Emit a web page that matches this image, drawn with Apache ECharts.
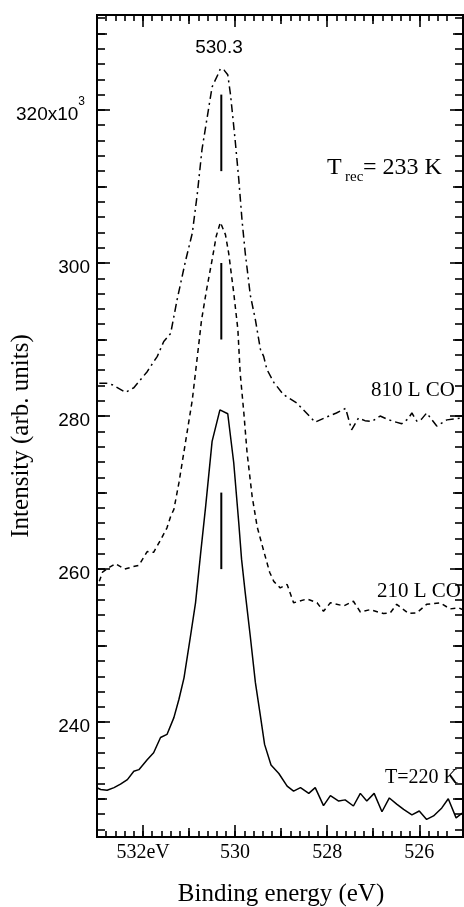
<!DOCTYPE html>
<html>
<head>
<meta charset="utf-8">
<script src="https://cdn.jsdelivr.net/npm/echarts@6/dist/echarts.min.js"></script>
<style>
  html, body { margin: 0; padding: 0; background: #fff; }
  #chart { width: 464px; height: 907px; }
</style>
</head>
<body>
<div id="chart"></div>
<script>
// O 1s region: binding energy (eV) vs intensity (x10^3 counts, arbitrary units)
const peakEnergy = 530.3;
const energyRange = [525.05, 533];
const intensityRange = [225, 332.4];

const xMajorTicks = [526, 528, 530, 532];
const xMidTicks = [527, 529, 531];
const yMajorTicks = [240, 260, 280, 300, 320];
const yMidTicks = [230, 250, 270, 290, 310, 330];

// T = 220 K (clean)
const spectrumT220 = [
  [532.99, 231.4], [532.92, 231.2], [532.78, 231.1], [532.63, 231.45], [532.49, 231.9],
  [532.34, 232.5], [532.2, 233.6], [532.09, 233.8], [531.91, 235.1], [531.77, 236.0],
  [531.62, 238.0], [531.48, 238.4], [531.33, 240.6], [531.22, 243.0], [531.11, 245.8],
  [530.97, 251.2], [530.86, 255.6], [530.75, 262.0], [530.64, 268.2], [530.5, 276.7],
  [530.33, 280.8], [530.16, 280.3], [530.03, 273.9], [529.92, 266.0], [529.86, 261.3],
  [529.78, 256.9], [529.67, 251.2], [529.56, 245.2], [529.45, 240.8], [529.36, 237.1],
  [529.22, 234.4], [529.05, 233.3], [528.87, 231.65], [528.73, 231.0], [528.58, 231.45],
  [528.4, 230.7], [528.26, 231.45], [528.08, 229.1], [527.93, 230.4], [527.75, 229.7],
  [527.61, 229.85], [527.43, 229.05], [527.28, 230.7], [527.14, 229.7], [526.98, 230.7],
  [526.81, 228.3], [526.65, 230.1], [526.49, 229.3], [526.34, 228.6], [526.16, 227.9],
  [526.0, 228.4], [525.84, 227.3], [525.69, 227.75], [525.51, 228.8], [525.37, 230.0],
  [525.2, 227.5], [525.05, 228.2]
];

// 210 L CO
const spectrum210L = [
  [532.95, 258.4], [532.88, 259.6], [532.74, 260.2], [532.6, 260.7], [532.4, 260.0],
  [532.23, 260.3], [532.09, 260.5], [531.91, 262.3], [531.77, 262.2], [531.62, 263.8],
  [531.48, 265.4], [531.4, 266.9], [531.33, 267.8], [531.22, 271.3], [531.08, 276.5],
  [530.93, 282.1], [530.82, 287.8], [530.73, 292.5], [530.62, 296.5], [530.5, 300.4],
  [530.41, 303.5], [530.32, 305.3], [530.21, 303.7], [530.14, 301.3], [530.03, 296.1],
  [529.94, 291.3], [529.89, 285.6], [529.81, 280.4], [529.74, 275.2], [529.63, 269.5],
  [529.52, 265.5], [529.38, 262.4], [529.25, 259.6], [529.16, 258.4], [529.02, 257.55],
  [528.87, 258.0], [528.73, 255.6], [528.44, 256.1], [528.22, 255.6], [528.08, 254.5],
  [527.93, 255.6], [527.64, 255.2], [527.43, 255.8], [527.28, 254.4], [527.07, 254.7],
  [526.78, 254.2], [526.63, 254.3], [526.49, 255.4], [526.23, 254.2], [526.05, 254.3],
  [525.84, 255.4], [525.55, 255.6], [525.33, 254.8], [525.15, 254.95], [525.05, 254.7]
];

// 810 L CO
const spectrum810L = [
  [532.95, 284.3], [532.8, 284.3], [532.67, 284.1], [532.38, 283.1], [532.2, 283.7],
  [531.91, 285.8], [531.69, 287.8], [531.55, 289.75], [531.4, 290.8], [531.26, 295.2],
  [531.08, 300.2], [530.93, 303.9], [530.82, 309.1], [530.72, 314.8], [530.61, 318.9],
  [530.5, 323.0], [530.36, 324.8], [530.32, 325.4], [530.24, 325.2], [530.16, 324.6],
  [530.1, 322.0], [530.0, 316.1], [529.92, 310.9], [529.85, 305.6], [529.78, 301.3],
  [529.67, 295.8], [529.56, 292.6], [529.45, 288.7], [529.38, 287.8], [529.31, 286.1],
  [529.16, 284.4], [528.95, 282.8], [528.66, 281.7], [528.26, 279.2], [528.0, 279.9],
  [527.8, 280.4], [527.6, 281.0], [527.47, 278.2], [527.32, 279.75], [527.18, 279.4],
  [527.03, 279.3], [526.85, 280.0], [526.7, 279.6], [526.56, 279.3], [526.38, 279.0],
  [526.25, 279.6], [526.16, 280.4], [526.05, 279.3], [525.95, 279.6], [525.84, 280.4],
  [525.62, 278.7], [525.4, 279.5], [525.05, 279.75]
];

// vertical markers at the peak position, one per spectrum
const peakMarkerRanges = [[312, 322], [290, 300], [260, 270]];

// fine tick positions: 0.2 eV on energy, 2 units on intensity
const xMinorTicks = [];
for (let k = 2627; k <= 2665; k++) xMinorTicks.push(k / 5);
const yMinorTicks = [];
for (let v = 226; v <= 332; v += 2) yMinorTicks.push(v);

const serif = 'Liberation Serif';
const sans = 'Liberation Sans';

function xLayer(position, ticks, len, labels) {
  return {
    type: 'value', position: position, min: energyRange[0], max: energyRange[1], inverse: true,
    axisLine: { show: true, onZero: false, lineStyle: { color: '#000', width: 2 } },
    axisTick: { show: true, inside: true, length: len, customValues: ticks,
                lineStyle: { color: '#000', width: 1.6 } },
    axisLabel: labels ? {
      show: true, customValues: ticks, margin: 6, color: '#000',
      fontFamily: serif, fontSize: 20,
      formatter: v => (v === 532 ? '532eV' : String(v))
    } : { show: false },
    splitLine: { show: false }
  };
}

function yLayer(position, ticks, len, labels) {
  return {
    type: 'value', position: position, min: intensityRange[0], max: intensityRange[1],
    axisLine: { show: true, onZero: false, lineStyle: { color: '#000', width: 2 } },
    axisTick: { show: true, inside: true, length: len, customValues: ticks,
                lineStyle: { color: '#000', width: 1.6 } },
    axisLabel: labels ? {
      show: true, customValues: ticks, margin: 7, color: '#000',
      formatter: v => (v === 320 ? '{n|320x10}{e|3}' : '{n|' + v + '}'),
      rich: {
        n: { fontFamily: sans, fontSize: 19, lineHeight: 28, verticalAlign: 'bottom', color: '#000' },
        e: { fontFamily: sans, fontSize: 12, lineHeight: 12, verticalAlign: 'top', color: '#000',
             padding: [0, 5, 0, 0] }
      }
    } : { show: false },
    splitLine: { show: false }
  };
}

const xAxes = [
  xLayer('bottom', xMajorTicks, 12, true),
  xLayer('bottom', xMidTicks, 9, false),
  xLayer('bottom', xMinorTicks, 6, false),
  xLayer('top', xMajorTicks, 12, false),
  xLayer('top', xMidTicks, 9, false),
  xLayer('top', xMinorTicks, 6, false)
];
const yAxes = [
  yLayer('left', yMajorTicks, 13, true),
  yLayer('left', yMidTicks, 10, false),
  yLayer('left', yMinorTicks, 8, false),
  yLayer('right', yMajorTicks, 13, false),
  yLayer('right', yMidTicks, 10, false),
  yLayer('right', yMinorTicks, 8, false)
];

function spectrumSeries(name, data, dash) {
  return {
    name: name, type: 'line', data: data, showSymbol: false, symbol: 'none',
    xAxisIndex: 0, yAxisIndex: 0,
    lineStyle: { color: '#000', width: 1.5, type: dash }
  };
}

const series = [
  spectrumSeries('810 L CO', spectrum810L, [8, 4, 2, 4]),
  spectrumSeries('210 L CO', spectrum210L, [5, 4]),
  spectrumSeries('T=220 K', spectrumT220, 'solid')
];
peakMarkerRanges.forEach((r, i) => {
  series.push({
    name: 'peak' + i, type: 'line', showSymbol: false, symbol: 'none',
    data: [[peakEnergy, r[0]], [peakEnergy, r[1]]],
    lineStyle: { color: '#000', width: 2, type: 'solid' }
  });
});

function label(text, x, y, size, font, align) {
  return {
    type: 'text', x: x, y: y,
    style: { text: text, fontFamily: font, fontSize: size, fill: '#000',
             align: align || 'left', verticalAlign: 'middle' }
  };
}

const chart = echarts.init(document.getElementById('chart'), null, { renderer: 'canvas' });
chart.setOption({
  animation: false,
  backgroundColor: '#fff',
  grid: { left: 97, top: 15, right: 1, bottom: 70, containLabel: false },
  xAxis: xAxes,
  yAxis: yAxes,
  series: series,
  graphic: [
    label(String(peakEnergy), 219, 48, 19, sans, 'center'),
    label('T', 327, 168, 24, serif),
    label('rec', 345, 177, 15, serif),
    label('= 233 K', 363, 168, 24, serif),
    label('810 L CO', 455, 390, 21, serif, 'right'),
    label('210 L CO', 377, 591, 21, serif),
    label('T=220 K', 385, 778, 20, serif),
    label('Binding energy (eV)', 281, 894, 25, serif, 'center'),
    {
      type: 'text', x: 21.5, y: 436, rotation: Math.PI / 2,
      style: { text: 'Intensity (arb. units)', fontFamily: serif, fontSize: 25, fill: '#000',
               align: 'center', verticalAlign: 'middle' }
    }
  ]
});
</script>
</body>
</html>
